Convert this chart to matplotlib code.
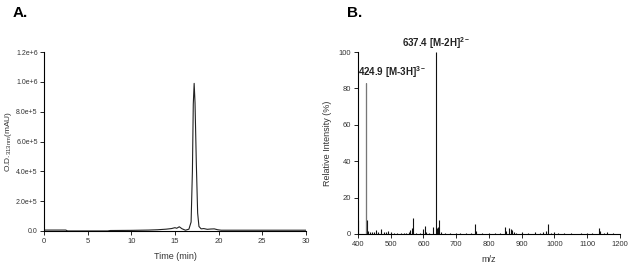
import matplotlib.pyplot as plt
import numpy as np

plt.rcParams['font.family'] = ['Liberation Sans', 'DejaVu Sans']

# A: chromatogram (time in min, signal in mAU)
time_min = [0, 2.5, 2.7, 7.3, 7.6, 10, 12, 13, 14, 14.6, 15.0, 15.2, 15.5, 15.8,
            16.2, 16.6, 16.85, 17.0, 17.1, 17.2, 17.3, 17.45, 17.6, 17.75, 18.0,
            18.3, 18.7, 19.1, 19.5, 19.9, 20.3, 25, 30]
signal_mau = [6000, 6000, 0, 0, 3000, 4000, 6000, 8000, 12000, 16000, 22000, 18000,
              28000, 15000, 5000, 12000, 60000, 400000, 850000, 990000, 860000,
              450000, 120000, 30000, 14000, 16000, 11000, 13000, 14000, 8000, 5000,
              5000, 5000]

# B: mass spectrum (m/z, relative intensity %)
mz = [400, 424.9, 426.5, 432, 438, 444, 450, 456, 462, 470, 478, 486, 492, 500,
      510, 520, 530, 540, 548, 555, 560, 564, 568, 576, 590, 600, 605, 609, 616,
      628, 637.4, 640, 645, 648, 655, 665, 680, 700, 712, 730, 745, 758, 761, 780,
      800, 820, 835, 848, 852, 862, 866, 870, 875, 882, 900, 920, 940, 955, 965,
      975, 980, 990, 1000, 1010, 1030, 1050, 1080, 1100, 1115, 1135, 1138, 1150,
      1160, 1180]
rel_int = [7.5, 83, 7.5, 1.5, 1.2, 1.0, 1.2, 2.2, 1.0, 2.5, 0.8, 1.0, 1.6, 0.8,
           0.6, 0.4, 0.3, 0.6, 0.5, 0.9, 2.0, 3.0, 9.0, 0.6, 0.4, 2.5, 4.5, 1.0,
           0.5, 4.0, 100, 3.0, 4.0, 7.5, 1.0, 0.5, 0.5, 0.3, 0.6, 0.3, 0.4, 5.5, 1.5,
           0.5, 0.3, 0.3, 0.4, 4.0, 1.5, 3.0, 2.5, 2.0, 1.2, 0.6, 0.8, 0.3, 1.0, 0.5,
           1.0, 1.5, 5.5, 0.5, 0.8, 0.5, 0.4, 0.3, 0.3, 0.3, 0.3, 3.0, 1.5, 0.5, 1.0,
           0.3]

a_yticks = [0, 2e5, 4e5, 6e5, 8e5, 1e6, 1.2e6]
a_yticklabels = ['0.0', '2.0e+5', '4.0e+5', '6.0e+5', '8.0e+5', '1.0e+6', '1.2e+6']
a_xticks = [0, 5, 10, 15, 20, 25, 30]
b_yticks = [0, 20, 40, 60, 80, 100]
b_xticks = [400, 500, 600, 700, 800, 900, 1000, 1100, 1200]

tick_color = '#333333'

fig = plt.figure(figsize=(6.42, 2.67), dpi=100)
axA = fig.add_axes([0.0685, 0.135, 0.408, 0.670])
axB = fig.add_axes([0.5576, 0.124, 0.408, 0.681])


def style(ax, size=5.5):
    for s in ['top', 'right']:
        ax.spines[s].set_visible(False)
    for s in ['left', 'bottom']:
        ax.spines[s].set_linewidth(0.8)
    ax.tick_params(direction='out', length=3, width=0.6, labelsize=size,
                   labelcolor=tick_color, pad=2)


# 色谱图
axA.plot(time_min, signal_mau, color='#222222', lw=0.8)
axA.set_xlim(0, 30)
axA.set_ylim(0, 1.2e6)
axA.set_xticks(a_xticks)
axA.set_yticks(a_yticks)
axA.set_yticklabels(a_yticklabels)
axA.set_xlabel('Time (min)', fontsize=6.5, color=tick_color, labelpad=5)
axA.set_ylabel('O.D.$_{\\mathregular{313nm}}$(mAU)', fontsize=6, color=tick_color)
axA.yaxis.set_label_coords(-0.115, 0.5)
style(axA)
axA.tick_params(axis='y', labelsize=5, pad=1.5)

# 质谱图
axB.vlines(mz, 0, rel_int, color='#111111', lw=0.8)
axB.vlines([424.9], 0, [83], color='#777777', lw=0.8)
axB.set_xlim(400, 1200)
axB.set_ylim(0, 100)
axB.set_xticks(b_xticks)
axB.set_yticks(b_yticks)
axB.set_xlabel('m/z', fontsize=6.5, color=tick_color, labelpad=5)
axB.set_ylabel('Relative Intensity (%)', fontsize=6.5, color=tick_color)
axB.yaxis.set_label_coords(-0.1, 0.5)
style(axB)

axB.annotate('637.4 [M-2H]$^{\\mathregular{2-}}$', xy=(637.4, 100), xytext=(0, 1),
             textcoords='offset points', ha='center', va='bottom',
             fontsize=7, fontweight='bold', color='#222222')
axB.annotate('424.9 [M-3H]$^{\\mathregular{3-}}$', xy=(400, 84), xytext=(0, 1),
             textcoords='offset points', ha='left', va='bottom',
             fontsize=7, fontweight='bold', color='#222222')

fig.text(0.02, 0.95, 'A.', fontsize=11, fontweight='bold', va='center')
fig.text(0.54, 0.95, 'B.', fontsize=11, fontweight='bold', va='center')

fig.savefig('out.png', dpi=100)
